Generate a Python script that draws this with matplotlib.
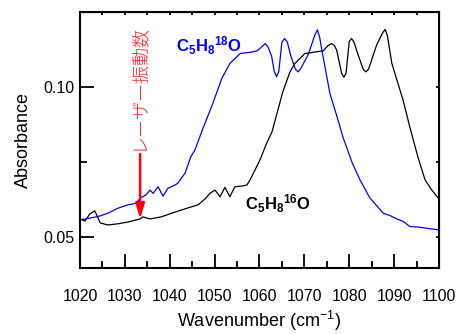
import matplotlib
matplotlib.use("Agg")
import matplotlib.pyplot as plt

plt.rcParams['font.family'] = ['Liberation Sans', 'DejaVu Sans']
plt.rcParams['mathtext.fontset'] = 'custom'
plt.rcParams['mathtext.rm'] = 'Liberation Sans'
plt.rcParams['mathtext.bf'] = 'Liberation Sans:bold'
plt.rcParams['mathtext.it'] = 'Liberation Sans:italic'

# C5H8 16O (black)
wn_16 = [1020.0, 1021.1, 1022.2, 1023.3, 1024.5, 1026.2, 1028.5, 1030.7, 1033.4, 1034.0,
         1035.6, 1038.1, 1041.2, 1044.1, 1046.3, 1047.9, 1049.0, 1050.1, 1051.2, 1052.3,
         1053.4, 1054.5, 1056.3, 1057.2, 1057.9, 1059.0, 1060.1, 1061.6, 1062.8, 1064.1,
         1065.2, 1066.8, 1067.9, 1070.1, 1071.9, 1074.2, 1075.3, 1076.1, 1076.7, 1077.2,
         1078.3, 1078.8, 1079.3, 1080.0, 1080.5, 1081.0, 1082.0, 1083.1, 1083.7, 1084.3,
         1086.1, 1087.4, 1088.0, 1088.5, 1089.5, 1092.0, 1093.5, 1095.3, 1096.9, 1098.4,
         1100.0]
abs_16 = [0.0560, 0.0553, 0.0577, 0.0587, 0.0547, 0.0540, 0.0544, 0.0550, 0.0560, 0.0567,
          0.0560, 0.0567, 0.0583, 0.0597, 0.0607, 0.0627, 0.0646, 0.0656, 0.0634, 0.0665,
          0.0634, 0.0667, 0.0670, 0.0673, 0.0690, 0.0723, 0.0756, 0.0812, 0.0850, 0.0922,
          0.0983, 0.1049, 0.1077, 0.1110, 0.1114, 0.1119, 0.1137, 0.1143, 0.1137, 0.1121,
          0.1045, 0.1031, 0.1045, 0.1150, 0.1160, 0.1150, 0.1105, 0.1058, 0.1049, 0.1058,
          0.1138, 0.1178, 0.1190, 0.1170, 0.1077, 0.0955, 0.0866, 0.0766, 0.0690, 0.0656,
          0.0627]

# C5H8 18O (blue)
wn_18 = [1020.0, 1021.8, 1024.0, 1026.2, 1028.5, 1030.7, 1032.5, 1033.4, 1034.7, 1035.6,
         1036.3, 1037.4, 1038.5, 1039.6, 1041.2, 1041.8, 1043.4, 1044.7, 1045.6, 1047.4,
         1049.6, 1051.6, 1053.4, 1055.7, 1057.9, 1059.5, 1060.7, 1061.3, 1061.9, 1062.7,
         1063.3, 1063.8, 1064.3, 1065.0, 1065.6, 1066.2, 1067.0, 1068.0, 1068.6, 1069.2,
         1070.9, 1072.3, 1072.9, 1073.4, 1073.9, 1075.7, 1077.5, 1078.6, 1080.6, 1082.4,
         1084.6, 1087.6, 1089.0, 1090.6, 1092.0, 1093.5, 1095.5, 1097.3, 1099.8]
abs_18 = [0.0557, 0.0562, 0.0568, 0.0579, 0.0596, 0.0607, 0.0612, 0.0629, 0.0640, 0.0656,
          0.0645, 0.0667, 0.0636, 0.0662, 0.0673, 0.0679, 0.0712, 0.0767, 0.0789, 0.0861,
          0.0944, 0.1027, 0.1077, 0.1110, 0.1114, 0.1119, 0.1135, 0.1143, 0.1132, 0.1101,
          0.1050, 0.1033, 0.1050, 0.1148, 0.1160, 0.1148, 0.1101, 0.1058, 0.1049, 0.1060,
          0.1108, 0.1170, 0.1189, 0.1165, 0.1121, 0.0977, 0.0889, 0.0832, 0.0749, 0.0690,
          0.0630, 0.0579, 0.0572, 0.0560, 0.0552, 0.0535, 0.0533, 0.0529, 0.0524]

laser_wn = 1033.4
arrow_top = 0.0776
arrow_tip = 0.0560

fig = plt.figure(figsize=(4.6, 3.34), dpi=100)
ax = fig.add_axes([0.1739, 0.1976, 0.7804, 0.7664])

ax.plot(wn_16, abs_16, color='black', lw=0.9)
ax.plot(wn_18, abs_18, color='#0000ff', lw=0.9)

ax.set_xlim(1020, 1100)
ax.set_ylim(0.0397, 0.1248)
ax.set_xticks(range(1020, 1101, 10))
ax.set_xticks(range(1025, 1100, 10), minor=True)
ax.set_yticks([0.05, 0.10])
ax.set_yticklabels(['0.05', '0.10'])
ax.set_yticks([0.075], minor=True)
ax.tick_params(which='major', direction='in', length=10, width=1.3, labelsize=11.5)
ax.tick_params(axis='x', which='major', pad=15)
ax.tick_params(axis='y', which='major', pad=4)
ax.tick_params(which='minor', direction='in', length=5, width=1.3)
for s in ax.spines.values():
    s.set_linewidth(1.5)

# short ticks on top / right
top = ax.secondary_xaxis('top')
top.set_xticks(range(1020, 1101, 5))
top.tick_params(direction='in', length=2.5, width=1.3, labeltop=False)
right = ax.secondary_yaxis('right')
right.set_yticks([0.05, 0.075, 0.10])
right.tick_params(direction='in', length=2.5, width=1.3, labelright=False)

ax.set_xlabel('Wavenumber (cm$^{-1}$)', fontsize=13)
ax.set_ylabel('Absorbance', fontsize=13, labelpad=8)

ax.text(1041.5, 0.1135, r'$\mathbf{C_5H_8{}^{18}O}$', color='#0000ff', fontsize=12,
        ha='left', va='center')
ax.text(1056.7, 0.0612, r'$\mathbf{C_5H_8{}^{16}O}$', color='black', fontsize=12,
        ha='left', va='center')

ax.text(1033.0, 0.1000, 'レーザー振動数', rotation=90, color='#ff2020', fontsize=13,
        fontweight='light', family=['Noto Sans CJK JP', 'DejaVu Sans'],
        ha='center', va='center')
ax.annotate('', xy=(laser_wn, arrow_tip), xytext=(laser_wn, arrow_top),
            arrowprops=dict(arrowstyle='-|>,head_length=0.6,head_width=0.18',
                            color='red', lw=1.8, mutation_scale=15, shrinkA=0, shrinkB=0))

fig.savefig('out.png', dpi=100)
